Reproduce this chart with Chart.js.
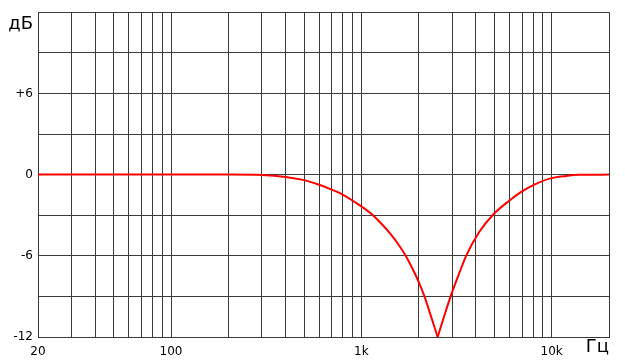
<!DOCTYPE html>
<html>
<head>
<meta charset="utf-8">
<script src="https://cdn.jsdelivr.net/npm/chart.js@4"></script>
<style>
html, body { margin: 0; padding: 0; background: #fff; }
</style>
</head>
<body>
<canvas id="chartNotch" width="625" height="364"></canvas>
<script>
// Datos (Hz, dB)
const freqs = [20, 100, 200, 300, 400, 494, 600, 682, 801, 1000, 1150, 1248, 1408, 1589, 1724, 1866, 2000, 2150, 2332, 2517, 2722, 2944, 3234, 3552, 4168, 4892, 5890, 6920, 7960, 9740, 11900, 14000, 20000];
const gainDb = [0, 0, 0, -0.03, -0.17, -0.39, -0.75, -1.05, -1.49, -2.35, -3.0, -3.5, -4.31, -5.29, -6.08, -7.01, -7.92, -9.04, -10.56, -12, -10.47, -9.0, -7.45, -6.0, -4.22, -3.0, -2.0, -1.28, -0.8, -0.3, -0.1, -0.02, 0];

// Ejes
const xTicks = [20, 30, 40, 50, 60, 70, 80, 90, 100, 200, 300, 400, 500, 600, 700, 800, 900, 1000, 2000, 3000, 4000, 5000, 6000, 7000, 8000, 9000, 10000, 20000];
const xLabels = { 20: '20', 100: '100', 1000: '1k', 10000: '10k' };
const yLabels = { 6: '+6', 0: '0', '-6': '-6', '-12': '-12' };
const unitX = 'Гц';
const unitY = 'дБ';

const gridColor = '#3a3a3a';
const lineColor = '#ff0000';
const fontFamily = '"DejaVu Sans", Verdana, sans-serif';

// La muesca tiene punta aguda: dos ramas que se tocan en el mínimo
const puntos = freqs.map((f, i) => ({ x: f, y: gainDb[i] }));
const iMin = gainDb.indexOf(Math.min(...gainDb));
const rama = data => ({
    data: data,
    borderColor: lineColor,
    borderWidth: 2,
    pointRadius: 0,
    cubicInterpolationMode: 'monotone',
    fill: false
});

// Unidades (дБ / Гц)
const unitLabels = {
    id: 'unitLabels',
    afterDraw(chart) {
        const ctx = chart.ctx;
        const a = chart.chartArea;
        ctx.save();
        ctx.fillStyle = '#000';
        ctx.font = '18px ' + fontFamily;
        ctx.textAlign = 'right';
        ctx.textBaseline = 'middle';
        ctx.fillText(unitY, a.left - 5, a.top + 12);
        ctx.fillText(unitX, a.right, a.bottom + 10);
        ctx.restore();
    }
};

new Chart(document.getElementById('chartNotch'), {
    type: 'line',
    data: {
        datasets: [rama(puntos.slice(0, iMin + 1)), rama(puntos.slice(iMin))]
    },
    options: {
        responsive: false,
        animation: false,
        layout: { padding: { top: 10, right: 16, left: 0, bottom: 0 } },
        plugins: { legend: { display: false }, tooltip: { enabled: false } },
        scales: {
            x: {
                type: 'logarithmic',
                min: 20,
                max: 20000,
                afterBuildTicks: scale => { scale.ticks = xTicks.map(v => ({ value: v })); },
                afterFit: scale => { scale.height = 27; },
                grid: { color: gridColor, drawTicks: false },
                border: { color: gridColor },
                ticks: {
                    autoSkip: false,
                    maxRotation: 0,
                    padding: 8,
                    color: '#000',
                    font: { family: fontFamily, size: 12 },
                    callback: v => xLabels[v] || ''
                }
            },
            y: {
                min: -12,
                max: 12,
                afterFit: scale => { scale.width = 38; },
                grid: { color: gridColor, drawTicks: false },
                border: { color: gridColor },
                ticks: {
                    stepSize: 3,
                    padding: 5,
                    color: '#000',
                    font: { family: fontFamily, size: 12 },
                    callback: v => (yLabels[v] !== undefined ? yLabels[v] : '')
                }
            }
        }
    },
    plugins: [unitLabels]
});
</script>
</body>
</html>
